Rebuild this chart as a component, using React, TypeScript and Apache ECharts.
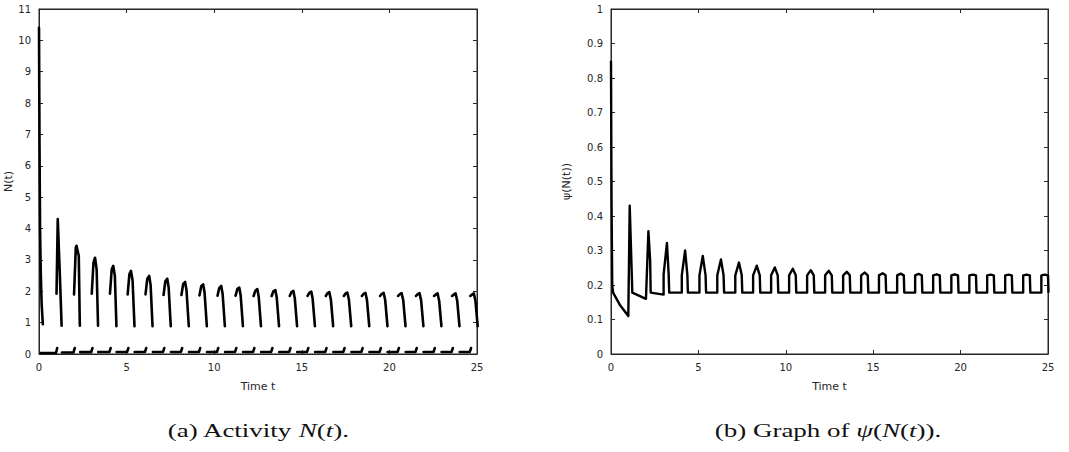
import React, { useEffect, useRef } from "react";
import * as echarts from "echarts";

// ---- data ----
const xTicks = [0, 5, 10, 15, 20, 25];
const nTicks = [0, 1, 2, 3, 4, 5, 6, 7, 8, 9, 10, 11];
const psiTicks = [0, 0.1, 0.2, 0.3, 0.4, 0.5, 0.6, 0.7, 0.8, 0.9, 1];

// pulse (activation) times shared by both panels
const pulseStart = [1.0, 2.0, 3.01, 4.05, 5.06, 6.08, 7.11, 8.13, 9.16, 10.19, 11.22, 12.25, 13.28, 14.31, 15.33, 16.37, 17.4, 18.43, 19.47, 20.5, 21.52, 22.55, 23.58, 24.62];
const riseShT = [1.04, 2.1, 3.11, 4.15, 5.16, 6.18, 7.21, 8.23, 9.26, 10.29, 11.32, 12.35, 13.38, 14.41, 15.43, 16.47, 17.5, 18.53, 19.57, 20.6, 21.62, 22.65, 23.68, 24.72];
const pulsePeakT = [1.07, 2.14, 3.2, 4.24, 5.25, 6.29, 7.32, 8.34, 9.37, 10.4, 11.43, 12.46, 13.49, 14.52, 15.54, 16.57, 17.6, 18.63, 19.67, 20.7, 21.72, 22.75, 23.78, 24.82];
const fallShT = [1.2, 2.27, 3.29, 4.33, 5.34, 6.37, 7.4, 8.42, 9.45, 10.48, 11.51, 12.54, 13.57, 14.6, 15.62, 16.66, 17.69, 18.72, 19.76, 20.79, 21.81, 22.84, 23.87, 24.91];
const pulseEnd = [1.29, 2.33, 3.37, 4.42, 5.45, 6.48, 7.52, 8.55, 9.58, 10.61, 11.64, 12.67, 13.7, 14.73, 15.75, 16.79, 17.82, 18.85, 19.89, 20.92, 21.94, 22.97, 24.0, 25.04];
const psiEnd = [1.22, 2.27, 3.33, 4.4, 5.44, 6.47, 7.51, 8.54, 9.57, 10.6, 11.63, 12.66, 13.69, 14.72, 15.74, 16.78, 17.81, 18.84, 19.88, 20.91, 21.93, 22.96, 23.99, 25.03];

// panel (a): N(t)
const nInitT = [0, 0.03, 0.06, 0.1, 0.15, 0.22];
const nInitV = [10.4, 6.6, 4.0, 2.6, 1.6, 0.95];
const nRise = [1.92, 1.9, 1.92, 1.92, 1.9, 1.9, 1.88, 1.88, 1.87, 1.86, 1.86, 1.85, 1.85, 1.85, 1.85, 1.85, 1.85, 1.85, 1.85, 1.85, 1.85, 1.85, 1.85, 1.85];
const nRiseSh = [null, 3.39, 2.91, 2.7, 2.55, 2.4, 2.32, 2.23, 2.16, 2.11, 2.07, 2.02, 2.0, 1.97, 1.95, 1.94, 1.93, 1.92, 1.92, 1.91, 1.91, 1.9, 1.9, 1.9];
const nPeak = [4.3, 3.45, 3.07, 2.81, 2.65, 2.49, 2.4, 2.3, 2.22, 2.17, 2.12, 2.07, 2.04, 2.01, 1.99, 1.97, 1.96, 1.95, 1.95, 1.94, 1.94, 1.93, 1.93, 1.93];
const nFallSh = [2.38, 3.13, 2.7, 2.49, 2.35, 2.2, 2.12, 2.03, 1.96, 1.92, 1.87, 1.83, 1.8, 1.78, 1.76, 1.74, 1.73, 1.72, 1.72, 1.71, 1.71, 1.7, 1.7, 1.7];
const nFall = [0.9, 0.9, 0.9, 0.89, 0.89, 0.89, 0.89, 0.89, 0.89, 0.89, 0.89, 0.89, 0.89, 0.89, 0.89, 0.89, 0.89, 0.89, 0.89, 0.89, 0.89, 0.89, 0.89, 0.89];
const nRestStart = [0.1, 1.31, 2.35, 3.38, 4.43, 5.46, 6.5, 7.53, 8.56, 9.59, 10.62, 11.65, 12.68, 13.71, 14.74, 15.76, 16.8, 17.83, 18.86, 19.9, 20.93, 21.95, 22.98, 24.01];
const nRest = [0.03, 0.05, 0.06, 0.065, 0.065, 0.065, 0.065, 0.065, 0.065, 0.065, 0.065, 0.065, 0.065, 0.065, 0.065, 0.065, 0.065, 0.065, 0.065, 0.065, 0.065, 0.065, 0.065, 0.065];
const nKick = [0.19, 0.19, 0.19, 0.19, 0.19, 0.19, 0.19, 0.19, 0.19, 0.19, 0.19, 0.19, 0.19, 0.19, 0.19, 0.19, 0.19, 0.19, 0.19, 0.19, 0.19, 0.19, 0.19, 0.19];

// panel (b): psi(N(t))
const psiInitT = [0, 0.03, 0.07, 0.12, 0.5, 0.99];
const psiInitV = [0.85, 0.45, 0.2, 0.178, 0.143, 0.11];
const psiPeak = [0.43, 0.356, 0.322, 0.3, 0.284, 0.274, 0.265, 0.256, 0.251, 0.247, 0.243, 0.241, 0.238, 0.236, 0.234, 0.233, 0.232, 0.231, 0.231, 0.23, 0.23, 0.23, 0.23, 0.23];
const psiRiseShoulder = [null, null, 0.23, 0.228, 0.228, 0.228, 0.228, 0.228, 0.228, 0.228, 0.228, 0.228, 0.228, 0.228, 0.228, 0.228, 0.228, 0.228, 0.228, 0.228, 0.228, 0.228, 0.228, 0.228];
const psiFallShoulder = [null, 0.27, 0.23, 0.228, 0.228, 0.228, 0.228, 0.228, 0.228, 0.228, 0.228, 0.228, 0.228, 0.228, 0.228, 0.228, 0.228, 0.228, 0.228, 0.228, 0.228, 0.228, 0.228, 0.228];
const psiBaseAfter = [0.178, 0.178, 0.178, 0.178, 0.178, 0.178, 0.178, 0.178, 0.178, 0.178, 0.178, 0.178, 0.178, 0.178, 0.178, 0.178, 0.178, 0.178, 0.178, 0.178, 0.178, 0.178, 0.178, 0.178];
const psiBaseBefore = [0.11, 0.16, 0.172, 0.178, 0.178, 0.178, 0.178, 0.178, 0.178, 0.178, 0.178, 0.178, 0.178, 0.178, 0.178, 0.178, 0.178, 0.178, 0.178, 0.178, 0.178, 0.178, 0.178, 0.178];

type Pt = [number, number | string];

function buildN(): Pt[] {
  const pts: Pt[] = [];
  nInitT.forEach((t, i) => pts.push([t, nInitV[i]]));
  pts.push([0.2, "-"]);
  for (let k = 0; k < pulseStart.length; k++) {
    pts.push([nRestStart[k], nRest[k]]);
    pts.push([pulseStart[k] - 0.03, nRest[k]]);
    pts.push([pulseStart[k] + 0.04, nKick[k]]);
    pts.push([pulseStart[k] + 0.04, "-"]);
    pts.push([pulseStart[k], nRise[k]]);
    const rs = nRiseSh[k];
    if (rs !== null) pts.push([riseShT[k], rs]);
    pts.push([pulsePeakT[k], nPeak[k]]);
    pts.push([fallShT[k], nFallSh[k]]);
    pts.push([pulseEnd[k], nFall[k]]);
    pts.push([pulseEnd[k], "-"]);
  }
  return pts;
}

function buildPsi(): Pt[] {
  const pts: Pt[] = [];
  psiInitT.forEach((t, i) => pts.push([t, psiInitV[i]]));
  for (let k = 0; k < pulseStart.length; k++) {
    pts.push([pulseStart[k], psiBaseBefore[k]]);
    const rs = psiRiseShoulder[k];
    if (rs !== null) pts.push([pulseStart[k], rs]);
    pts.push([pulsePeakT[k], psiPeak[k]]);
    const fs = psiFallShoulder[k];
    if (fs !== null) pts.push([psiEnd[k] - 0.03, fs]);
    pts.push([psiEnd[k], psiBaseAfter[k]]);
    if (k + 1 < pulseStart.length) pts.push([pulseStart[k + 1], psiBaseBefore[k + 1]]);
  }
  return pts;
}

const AX = "#262626";
const FONT = "'DejaVu Sans', 'Liberation Sans', sans-serif";

function axesFor(gi: number, yMax: number, yInt: number, yName: string, yNameGap: number) {
  const common = {
    gridIndex: gi,
    type: "value" as const,
    axisLine: { show: true, onZero: false, lineStyle: { color: AX, width: 1 } },
    axisTick: { show: true, inside: true, length: 4, lineStyle: { color: AX } },
    splitLine: { show: false },
  };
  const xs = [
    {
      ...common,
      position: "bottom",
      min: xTicks[0],
      max: xTicks[xTicks.length - 1],
      interval: xTicks[1] - xTicks[0],
      axisLabel: { show: true, margin: 8, fontSize: 10, color: AX, fontFamily: FONT },
      name: "Time t",
      nameLocation: "middle",
      nameGap: 27,
      nameTextStyle: { fontSize: 11, color: AX, fontFamily: FONT },
    },
    {
      ...common,
      position: "top",
      min: xTicks[0],
      max: xTicks[xTicks.length - 1],
      interval: xTicks[1] - xTicks[0],
      axisLabel: { show: false },
    },
  ];
  const ys = [
    {
      ...common,
      position: "left",
      min: 0,
      max: yMax,
      interval: yInt,
      axisLabel: { show: true, margin: 8, fontSize: 10, color: AX, fontFamily: FONT },
      name: yName,
      nameLocation: "middle",
      nameGap: yNameGap,
      nameTextStyle: { fontSize: 11, color: AX, fontFamily: FONT },
    },
    { ...common, position: "right", min: 0, max: yMax, interval: yInt, axisLabel: { show: false } },
  ];
  return { xs, ys };
}

export default function App() {
  const ref = useRef<HTMLDivElement>(null);
  useEffect(() => {
    if (!ref.current) return;
    const chart = echarts.init(ref.current, undefined, { renderer: "svg" });
    const a = axesFor(0, nTicks[nTicks.length - 1], 1, "N(t)", 22);
    const b = axesFor(1, psiTicks[psiTicks.length - 1], 0.1, "ψ(N(t))", 39);
    const serif = "'Liberation Serif', 'DejaVu Serif', serif";
    const rich = {
      r: { fontFamily: serif, fontSize: 18, fill: "#111" },
      i: { fontFamily: serif, fontSize: 18, fontStyle: "italic", fill: "#111" },
    };
    const lineBase = { type: "line", showSymbol: false, connectNulls: false, clip: true, silent: true };
    chart.setOption({
      animation: false,
      backgroundColor: "#ffffff",
      grid: [
        { left: 39, top: 9, width: 438, height: 345, containLabel: false, show: true, borderColor: AX, borderWidth: 1, backgroundColor: "transparent" },
        { left: 611, top: 9, width: 437, height: 345, containLabel: false, show: true, borderColor: AX, borderWidth: 1, backgroundColor: "transparent" },
      ],
      xAxis: [...a.xs, ...b.xs],
      yAxis: [...a.ys, ...b.ys],
      series: [
        {
          ...lineBase,
          xAxisIndex: 0,
          yAxisIndex: 0,
          data: buildN(),
          lineStyle: { color: "#000", width: 2.6, join: "round", cap: "round" },
        },
        { ...lineBase, xAxisIndex: 1, yAxisIndex: 1, data: [] },
        {
          ...lineBase,
          xAxisIndex: 2,
          yAxisIndex: 2,
          data: buildPsi(),
          lineStyle: { color: "#000", width: 2.4, join: "round" },
        },
        { ...lineBase, xAxisIndex: 3, yAxisIndex: 3, data: [] },
      ],
      graphic: [
        {
          type: "text",
          x: 258,
          y: 431,
          scaleX: 1.5,
          style: {
            text: "{r|(a) Activity }{i|N}{r|(}{i|t}{r|).}",
            rich,
            align: "center",
            verticalAlign: "middle",
          },
        },
        {
          type: "text",
          x: 828,
          y: 431,
          scaleX: 1.5,
          style: {
            text: "{r|(b) Graph of }{i|ψ}{r|(}{i|N}{r|(}{i|t}{r|)).}",
            rich,
            align: "center",
            verticalAlign: "middle",
          },
        },
      ],
    });
    return () => chart.dispose();
  }, []);
  return (
    <div
      ref={ref}
      style={{ position: "fixed", left: 0, top: 0, width: 1069, height: 452, background: "#fff" }}
    />
  );
}
